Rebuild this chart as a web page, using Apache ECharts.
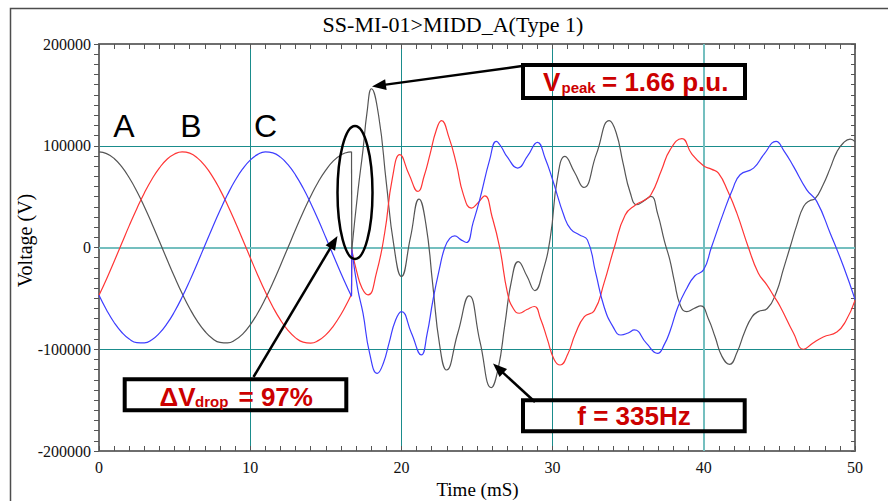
<!DOCTYPE html>
<html>
<head>
<meta charset="utf-8">
<script src="https://cdn.jsdelivr.net/npm/echarts@6/dist/echarts.min.js"></script>
<style>
  html, body { margin: 0; padding: 0; background: #fff; }
  #chart { width: 888px; height: 501px; }
</style>
</head>
<body>
<div id="chart"></div>
<script>
// Axis ticks
const timeTicks = [0, 10, 20, 30, 40, 50];               // ms
const voltTicks = [-200000, -100000, 0, 100000, 200000];  // V

// Phase voltages before the switching instant [t (ms), V]
const phaseAPre = [[0,94000],[0.5,92300],[1,87400],[1.5,79400],[2,68500],[2.5,55300],[3,40000],[3.5,23400],[4,5900],[4.5,-11800],[5,-29000],[5.5,-45300],[6,-59900],[6.5,-72400],[7,-82300],[7.5,-89400],[8,-93300],[8.5,-93800],[9,-91000],[9.5,-85100],[10,-76000],[10.5,-64400],[11,-50400],[11.5,-34600],[12,-17600],[12.5,0],[13,17600],[13.5,34600],[14,50400],[14.5,64400],[15,76000],[15.5,85100],[16,91000],[16.5,93800],[16.7,94000]];
const phaseBPre = [[0,-47000],[0.5,-30900],[1,-13700],[1.5,3900],[2,21500],[2.5,38200],[3,53600],[3.5,67100],[4,78300],[4.5,86700],[5,91900],[5.5,94000],[6,92700],[6.5,88100],[7,80400],[7.5,69900],[8,56900],[8.5,41800],[9,25300],[9.5,7900],[10,-9800],[10.5,-27200],[11,-43600],[11.5,-58400],[12,-71200],[12.5,-81400],[13,-88800],[13.5,-93000],[14,-93900],[14.5,-91500],[15,-85900],[15.5,-77200],[16,-65800],[16.5,-52000],[16.7,-46000]];
const phaseCPre = [[0,-47000],[0.5,-61400],[1,-73700],[1.5,-83300],[2,-90000],[2.5,-93500],[3,-93700],[3.5,-90600],[4,-84200],[4.5,-74900],[5,-62900],[5.5,-48700],[6,-32800],[6.5,-15700],[7,2000],[7.5,19500],[8,36400],[8.5,52000],[9,65800],[9.5,77200],[10,85900],[10.5,91500],[11,93900],[11.5,93000],[12,88800],[12.5,81400],[13,71200],[13.5,58400],[14,43600],[14.5,27200],[15,9800],[15.5,-7900],[16,-25300],[16.5,-41800],[16.7,-48000]];

// Collapse at the switching instant
const phaseAStep = [[16.7,94000],[16.72,-2000]];
const phaseBStep = [[16.7,-46000],[16.72,-2000]];
const phaseCStep = [[16.7,-48000],[16.72,-2000]];

// Ringing after the switching instant
const phaseAPost = [[16.72,-2000],[17.13,56000],[17.46,96000],[17.72,132000],[18.02,156000],[18.5,129000],[19.0,64000],[19.5,2000],[20.0,-28500],[20.6,10000],[21.17,47600],[21.62,23000],[22.07,-36000],[22.53,-96000],[22.98,-120400],[23.73,-84000],[24.48,-47600],[25.2,-92700],[25.95,-137800],[26.4,-119000],[26.84,-76000],[27.29,-32000],[27.73,-13800],[28.3,-28000],[28.83,-42300],[29.33,-25000],[29.85,10000],[30.32,68000],[30.82,89500],[31.45,74000],[32.05,59000],[32.9,92000],[33.75,124600],[34.2,113000],[34.66,83000],[35.13,54000],[35.58,42000],[36.05,46000],[36.5,50200],[36.95,33000],[37.4,6000],[37.75,-12000],[38.05,-33000],[38.45,-57000],[38.88,-63000],[39.35,-60000],[39.8,-57400],[40.3,-70000],[40.75,-88000],[41.2,-107000],[41.7,-114800],[42.2,-103000],[42.7,-83000],[43.2,-68000],[43.6,-63000],[44.2,-60000],[44.8,-44000],[45.25,-22000],[45.7,0],[46.15,22000],[46.6,40300],[47.0,46000],[47.36,48000],[47.9,62000],[48.36,78000],[48.8,94000],[49.24,103000],[49.68,106600],[50,104000]];
const phaseBPost = [[16.72,-2000],[17.05,-24000],[17.4,-40000],[17.8,-46600],[18.35,-25000],[18.9,15000],[19.4,68000],[19.9,91200],[20.5,72000],[21.1,55100],[21.5,70000],[21.9,92000],[22.3,115000],[22.65,124600],[23.15,108000],[23.64,82000],[24.1,52000],[24.63,38700],[25.07,44000],[25.51,50800],[26.0,30000],[26.5,0],[27.02,-45000],[27.4,-60000],[27.8,-64600],[28.3,-61000],[28.79,-58000],[29.2,-70000],[29.65,-90000],[30.1,-110000],[30.5,-115500],[31.0,-105000],[31.5,-85000],[32.1,-68000],[32.76,-62000],[33.4,-35000],[34.08,0],[34.8,32000],[35.5,42000],[36.0,46000],[36.5,51800],[37.2,76000],[37.77,96000],[38.55,107000],[39.2,92000],[39.98,80400],[40.5,77000],[40.97,73100],[41.6,55000],[42.18,34000],[42.95,0],[43.6,-25000],[44.17,-36700],[44.6,-47000],[45.05,-58000],[45.93,-84000],[46.6,-100000],[47.2,-94000],[47.9,-88000],[48.8,-83000],[49.4,-72000],[50,-52000]];
const phaseCPost = [[16.72,-2000],[17.1,-40000],[17.46,-64600],[17.9,-104000],[18.41,-123700],[18.8,-114000],[19.2,-93000],[19.6,-72000],[20.0,-63000],[20.66,-84000],[21.32,-105600],[21.7,-85000],[22.09,-51500],[22.5,-22000],[22.87,0],[23.2,9000],[23.53,11500],[23.9,8000],[24.3,4900],[24.75,25000],[25.18,47000],[25.84,86300],[26.28,104300],[26.6,99000],[27.0,89000],[27.69,78100],[28.35,90000],[29.0,103300],[29.5,88000],[30.0,66600],[30.77,30500],[31.2,18000],[31.76,12500],[32.3,7500],[32.85,-25000],[33.4,-58000],[34.0,-78000],[34.52,-86000],[35.0,-84000],[35.4,-81000],[36.2,-94000],[36.94,-104000],[37.4,-95000],[37.77,-82000],[38.3,-58000],[38.88,-40000],[39.4,-28000],[39.98,-22000],[40.5,0],[41.3,34000],[41.9,57000],[42.4,71500],[43.29,78000],[44.0,92000],[44.78,104300],[45.3,95000],[45.93,79700],[46.81,56700],[47.47,45300],[48.36,14100],[49.24,-18700],[50,-51000]];

const COLOR_A = '#555555';
const COLOR_B = '#ff3535';
const COLOR_C = '#3d3dff';
const GRID_TEAL = '#1a8c8c';
const GRID_LIGHT = '#74bfbf';
const AXIS_GRAY = '#6e6e6e';
const NOTE_RED = '#cc0000';
const SERIF = '"Liberation Serif", "Times New Roman", serif';
const SANS = '"Liberation Sans", Arial, sans-serif';

const chart = echarts.init(document.getElementById('chart'), null, { renderer: 'svg' });

const tMin = timeTicks[0], tMax = timeTicks[timeTicks.length - 1], tStep = timeTicks[1] - timeTicks[0];
const vMin = voltTicks[0], vMax = voltTicks[voltTicks.length - 1], vStep = voltTicks[1] - voltTicks[0];

function traceSeries(name, data, color, smooth) {
  return {
    name, type: 'line', data, xAxisIndex: 0, yAxisIndex: 0,
    showSymbol: false, symbol: 'none', smooth: smooth ? 0.5 : false,
    lineStyle: { color, width: 1.2 }, animation: false, silent: true, z: 3
  };
}

function arrow(x1, y1, x2, y2) {
  const dx = x2 - x1, dy = y2 - y1, L = Math.hypot(dx, dy);
  const ux = dx / L, uy = dy / L, hl = 14, hw = 5.5;
  const bx = x2 - ux * hl, by = y2 - uy * hl;
  return [
    { type: 'line', z: 100, shape: { x1, y1, x2: bx + ux * 2, y2: by + uy * 2 },
      style: { stroke: '#000', lineWidth: 2.5 } },
    { type: 'polygon', z: 100, shape: { points: [[x2, y2], [bx - uy * hw, by + ux * hw], [bx + uy * hw, by - ux * hw]] },
      style: { fill: '#000' } }
  ];
}

function box(x, y, w, h) {
  return { type: 'rect', z: 100, shape: { x, y, width: w, height: h },
    style: { fill: 'none', stroke: '#000', lineWidth: 4 } };
}

function txt(text, x, y, font, fill, align, extra) {
  return Object.assign({ type: 'text', z: 101, x, y,
    style: { text, font, fill, align: align || 'left', verticalAlign: 'middle',
             textAlign: align || 'left', textVerticalAlign: 'middle' } }, extra || {});
}

const graphics = [
  // outer frame
  { type: 'rect', z: 0, shape: { x: 10.5, y: 8.5, width: 900, height: 600 },
    style: { fill: 'none', stroke: '#4d4d4d', lineWidth: 1.5 } },
  // title and axis names
  txt('SS-MI-01>MIDD_A(Type 1)', 453, 24.5, '22px ' + SERIF, '#000', 'center'),
  txt('Voltage (V)', 25, 240.5, '20px ' + SERIF, '#000', 'center', { rotation: Math.PI / 2 }),
  txt('Time (mS)', 477.5, 489.5, '19px ' + SERIF, '#000', 'center'),
  // phase labels
  txt('A', 124, 125.5, '32px ' + SANS, '#000', 'center'),
  txt('B', 191, 125.5, '32px ' + SANS, '#000', 'center'),
  txt('C', 265.5, 125.5, '32px ' + SANS, '#000', 'center'),
  // switching region
  { type: 'ellipse', z: 100, shape: { cx: 355, cy: 192.5, rx: 17.5, ry: 66.5 },
    style: { fill: 'none', stroke: '#000', lineWidth: 2.5 } },
  // peak note
  box(523, 65, 222, 33),
  txt('V', 543, 82, 'bold 26px ' + SANS, NOTE_RED),
  txt('peak', 561.5, 87.5, 'bold 15px ' + SANS, NOTE_RED),
  txt('= 1.66 p.u.', 602, 82, 'bold 26px ' + SANS, NOTE_RED),
  ...arrow(522, 66, 372, 86.5),
  // drop note
  box(124.7, 379.3, 221.6, 31),
  txt('\u0394V', 159.5, 396.5, 'bold 26px ' + SANS, NOTE_RED),
  txt('drop', 195, 401.5, 'bold 15px ' + SANS, NOTE_RED),
  txt('= 97%', 238.5, 396.5, 'bold 26px ' + SANS, NOTE_RED),
  ...arrow(253.5, 377, 337.5, 236),
  // frequency note
  box(523, 400.3, 221.7, 31),
  txt('f = 335Hz', 634, 415.5, 'bold 26px ' + SANS, NOTE_RED, 'center'),
  ...arrow(535, 402, 493, 363.5)
];

const tickStyle = { color: '#555', width: 1 };

// Series A carries the two emphasised grid lines (zero volts, 40 ms)
const seriesList = [
  traceSeries('A', phaseAPre, COLOR_A, true),
  traceSeries('B', phaseBPre, COLOR_B, true),
  traceSeries('C', phaseCPre, COLOR_C, true),
  traceSeries('A step', phaseAStep, COLOR_A, false),
  traceSeries('B step', phaseBStep, COLOR_B, false),
  traceSeries('C step', phaseCStep, COLOR_C, false),
  traceSeries('A post', phaseAPost, COLOR_A, true),
  traceSeries('B post', phaseBPost, COLOR_B, true),
  traceSeries('C post', phaseCPost, COLOR_C, true)
];
seriesList[0].markLine = {
  silent: true, symbol: 'none', animation: false, label: { show: false }, z: 1,
  lineStyle: { color: GRID_LIGHT, width: 2, type: 'solid' },
  data: [{ yAxis: voltTicks[2] }, { xAxis: timeTicks[4] }]
};

chart.setOption({
  animation: false,
  backgroundColor: '#fff',
  grid: { left: 99, right: 33, top: 44, bottom: 50, containLabel: false },
  xAxis: [
    {
      type: 'value', position: 'bottom', min: tMin, max: tMax, interval: tStep,
      axisLine: { show: true, onZero: false, lineStyle: { color: AXIS_GRAY, width: 2 } },
      axisTick: { show: true, inside: true, length: 5, lineStyle: tickStyle },
      minorTick: { show: true, splitNumber: 10, length: 5, lineStyle: tickStyle },
      splitLine: { show: true, lineStyle: { color: GRID_TEAL, width: 1 } },
      axisLabel: { show: true, margin: 8, color: '#111', fontFamily: SERIF, fontSize: 16,
                   formatter: v => String(v) }
    },
    {
      type: 'value', position: 'top', min: tMin, max: tMax, interval: tStep,
      axisLine: { show: true, onZero: false, lineStyle: { color: AXIS_GRAY, width: 2 } },
      axisTick: { show: true, inside: true, length: 5, lineStyle: tickStyle },
      minorTick: { show: true, splitNumber: 10, length: 5, lineStyle: tickStyle },
      splitLine: { show: false }, axisLabel: { show: false }
    }
  ],
  yAxis: [
    {
      type: 'value', position: 'left', min: vMin, max: vMax, interval: vStep,
      axisLine: { show: true, onZero: false, lineStyle: { color: AXIS_GRAY, width: 2 } },
      axisTick: { show: true, inside: false, length: 5, lineStyle: tickStyle },
      minorTick: { show: true, splitNumber: 10, length: 5, lineStyle: tickStyle },
      splitLine: { show: true, lineStyle: { color: GRID_TEAL, width: 1 } },
      axisLabel: { show: true, margin: 8, color: '#111', fontFamily: SERIF, fontSize: 16,
                   formatter: v => String(v) }
    },
    {
      type: 'value', position: 'right', min: vMin, max: vMax, interval: vStep,
      axisLine: { show: true, onZero: false, lineStyle: { color: AXIS_GRAY, width: 2 } },
      axisTick: { show: true, inside: true, length: 4, lineStyle: tickStyle },
      minorTick: { show: true, splitNumber: 10, length: 4, lineStyle: tickStyle },
      splitLine: { show: false }, axisLabel: { show: false }
    }
  ],
  series: seriesList,
  graphic: { elements: graphics }
});
</script>
</body>
</html>
